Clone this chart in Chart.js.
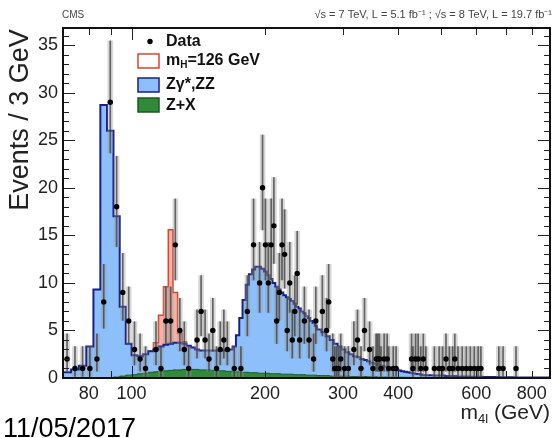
<!DOCTYPE html>
<html>
<head>
<meta charset="utf-8">
<script src="https://cdn.jsdelivr.net/npm/chart.js@4.4.0/dist/chart.umd.min.js"></script>
<style>
  html, body { margin: 0; padding: 0; background: #fff; }
  #wrap { width: 553px; height: 438px; position: relative; }
</style>
</head>
<body>
<div id="wrap"><canvas id="massChart"></canvas></div>
<script>
// x axis labels (GeV) and minor tick positions
const massTicks = [80, 100, 200, 300, 400, 600, 800];
const massMinorTicks = [70, 80, 90, 200, 300, 400, 500, 600, 700, 800];
const eventTicks = [0, 5, 10, 15, 20, 25, 30, 35];

// background histograms: left bin edges (GeV), events per bin
const bkgEdges = [
  70, 73, 76, 79, 82, 85, 88, 91, 94, 97,
  100, 103, 106, 109, 112, 115, 118, 121, 124, 127,
  130, 133, 136, 139, 142, 145, 148, 151, 154, 157,
  160, 163, 166, 169, 172, 175, 178, 181, 184, 187,
  190, 193, 196, 199, 202, 205, 208, 211, 214, 217,
  220, 223, 226, 229, 232, 235, 238, 241, 244, 247,
  250, 253, 256, 259,
  262, 268, 274, 280, 286, 292, 298, 304, 310, 316,
  322, 328, 334, 340, 346, 352, 358, 364, 370, 376,
  382, 388, 394, 400, 406, 412, 418, 424, 430, 436,
  442, 448,
  454, 480, 510, 540, 580, 620, 680, 740, 800, 880
];
// Zgamma*, ZZ
const zzEvents = [
  0.3, 0.6, 0.9, 1.3, 3.3, 9.3, 28.7, 25.95, 16.9, 7.3,
  3.3, 2.05, 1.85, 2.0, 2.2, 2.35, 2.6, 2.75, 2.8, 2.85,
  2.85, 2.7, 2.5, 2.3, 2.1, 2.05, 2.05, 2.05, 2.1, 2.1,
  2.15, 2.15, 2.2, 2.3, 2.65, 3.85, 5.7, 7.6, 9.2, 10.35,
  10.85, 11.15, 11.2, 11.0, 10.7, 10.3, 9.95, 9.55, 9.15, 8.85,
  8.6, 8.3, 8.1, 7.9, 7.7, 7.45, 7.15, 6.95, 6.65, 6.45,
  6.2, 6.0, 5.7, 5.5,
  5.2, 4.85, 4.55, 4.15, 3.8, 3.4, 3.1, 2.8, 2.5, 2.35,
  2.15, 2.05, 1.85, 1.75, 1.63, 1.48, 1.38, 1.3, 1.2, 1.1,
  1.0, 0.9, 0.85, 0.82, 0.72, 0.62, 0.58, 0.53, 0.49, 0.44,
  0.4, 0.37,
  0.33, 0.26, 0.22, 0.17, 0.14, 0.11, 0.08, 0.07, 0.05, 0.05
];
// Z+X
const zxEvents = [
  0, 0, 0, 0, 0, 0, 0, 0.05, 0.1, 0.2,
  0.3, 0.35, 0.45, 0.5, 0.6, 0.65, 0.7, 0.75, 0.8, 0.85,
  0.85, 0.9, 0.9, 0.9, 0.9, 0.85, 0.85, 0.85, 0.8, 0.8,
  0.75, 0.75, 0.7, 0.7, 0.65, 0.65, 0.6, 0.6, 0.6, 0.55,
  0.55, 0.55, 0.5, 0.5, 0.5, 0.5, 0.45, 0.45, 0.45, 0.45,
  0.4, 0.4, 0.4, 0.4, 0.4, 0.35, 0.35, 0.35, 0.35, 0.35,
  0.3, 0.3, 0.3, 0.3,
  0.3, 0.25, 0.25, 0.25, 0.2, 0.2, 0.2, 0.2, 0.2, 0.15,
  0.15, 0.15, 0.15, 0.15, 0.12, 0.12, 0.12, 0.1, 0.1, 0.1,
  0.1, 0.1, 0.1, 0.08, 0.08, 0.08, 0.07, 0.07, 0.06, 0.06,
  0.05, 0.05,
  0.05, 0.04, 0.03, 0.03, 0.02, 0.02, 0.02, 0.01, 0.01, 0.01
];

// mH = 126 GeV signal, on top of the background
const higgsEdges = [115, 118, 121, 124, 127, 130, 133];
const higgsEvents = [0.7, 3.3, 6.1, 12.0, 5.3, 1.0, 0.2];

// observed data (bin centres, counts)
const dataMass = [
  71.5, 74.5, 77.5, 80.5, 83.5, 86.5, 89.5, 92.5, 95.5, 98.5,
  101.5, 104.5, 107.5, 113.5, 116.5, 119.5, 122.5, 125.5, 128.5, 131.5,
  134.5, 140.5, 143.5, 146.5, 149.5, 152.5, 155.5, 158.5, 161.5, 164.5,
  170.5, 176.5, 182.5, 188.5, 194.5, 197.5, 200.5, 203.5, 206.5, 209.5,
  212.5, 215.5, 218.5, 221.5, 224.5, 227.5, 230.5, 233.5, 236.5, 239.5,
  245.5, 251.5, 257.5, 260.5, 269.5, 275.5, 278.5, 284.5, 287.5, 290.5,
  293.5, 296.5, 302.5, 308.5, 317.5, 323.5, 329.5, 335.5, 344.5, 350.5,
  356.5, 359.5, 362.5, 365.5, 371.5, 377.5, 380.5, 389.5, 395.5, 428.5,
  431.5, 437.5, 443.5, 449.5, 455.5, 461.5, 482.5, 494.5, 503.5, 512.5,
  521.5, 530.5, 536.5, 545.5, 557.5, 569.5, 581.5, 593.5, 605.5, 614.5,
  674.5, 689.5, 737.5
];
const dataEvents = [
  2, 1, 1, 1, 2, 8, 29, 18, 9, 6,
  3, 2, 1, 3, 1, 6, 6, 14, 5, 3,
  1, 4, 7, 4, 2, 5, 1, 3, 4, 3,
  1, 1, 7, 14, 10, 20, 14, 10, 14, 16,
  6, 9, 14, 13, 5, 10, 4, 7, 11, 4,
  6, 4, 2, 6, 7, 5, 8, 2, 1, 1,
  1, 2, 1, 1, 3, 4, 1, 5, 3, 1,
  2, 2, 2, 1, 2, 2, 1, 1, 1, 2,
  1, 2, 2, 1, 2, 1, 1, 1, 1, 2,
  1, 1, 2, 1, 1, 1, 1, 1, 1, 1,
  1, 1, 1
];

// 68% Poisson (Garwood) intervals for a count n
const poissonBand = {
  0: [0, 1.84], 1: [0.17, 3.30], 2: [0.71, 4.64], 3: [1.37, 5.92], 4: [2.09, 7.16],
  5: [2.84, 8.38], 6: [3.62, 9.58], 7: [4.42, 10.77], 8: [5.23, 11.95], 9: [6.06, 13.11],
  10: [6.89, 14.27], 11: [7.73, 15.42], 12: [8.58, 16.56], 13: [9.44, 17.70], 14: [10.30, 18.83],
  15: [11.17, 19.96], 16: [12.04, 21.08], 17: [12.92, 22.20], 18: [13.80, 23.32], 19: [14.68, 24.44],
  20: [15.57, 25.55], 29: [23.66, 35.45]
};

// ---- build datasets from the arrays ----
const zxPoints = bkgEdges.map((m, i) => ({ x: m, y: zxEvents[i] }));
const bkgPoints = bkgEdges.map((m, i) => ({ x: m, y: zxEvents[i] + zzEvents[i] }));
const sigPoints = [];
bkgEdges.forEach((m, i) => {
  if (m < 109 || m > 139) return;
  const k = higgsEdges.indexOf(m);
  sigPoints.push({ x: m, y: zxEvents[i] + zzEvents[i] + (k >= 0 ? higgsEvents[k] : 0) });
});
const dataPoints = dataMass.map((m, i) => ({ x: m, y: dataEvents[i] }));
const errPoints = dataMass.map((m, i) => ({ x: m, y: poissonBand[dataEvents[i]] }));

const FONT = "'Liberation Sans', Arial, Helvetica, sans-serif";
Chart.defaults.font.family = FONT;

const rootStyle = {
  id: 'rootStyle',
  afterDraw(chart) {
    const { ctx, chartArea: a, scales } = chart;
    const x = scales.x, y = scales.y;
    ctx.save();

    // inward ticks
    ctx.strokeStyle = '#222';
    ctx.lineWidth = 1;
    ctx.beginPath();
    for (let v = 1; v <= 36; v++) {
      const py = Math.round(y.getPixelForValue(v)) + 0.5;
      const len = v % 5 === 0 ? 12 : 6;
      ctx.moveTo(a.left, py); ctx.lineTo(a.left + len, py);
      ctx.moveTo(a.right, py); ctx.lineTo(a.right - len, py);
    }
    massMinorTicks.concat([100]).forEach(v => {
      const px = Math.round(x.getPixelForValue(v)) + 0.5;
      const len = v === 100 ? 12 : 7;
      ctx.moveTo(px, a.bottom); ctx.lineTo(px, a.bottom - len);
      ctx.moveTo(px, a.top); ctx.lineTo(px, a.top + len);
    });
    ctx.stroke();

    // frame
    ctx.strokeStyle = '#111';
    ctx.lineWidth = 2;
    ctx.strokeRect(a.left, a.top, a.right - a.left, a.bottom - a.top);

    // legend
    const lx = 138, tx = 166;
    ctx.fillStyle = '#000';
    ctx.beginPath(); ctx.arc(150, 41.5, 2.7, 0, Math.PI * 2); ctx.fill();
    ctx.lineWidth = 1.5;
    ctx.fillStyle = '#fff'; ctx.strokeStyle = '#e2412b';
    ctx.fillRect(lx, 54, 21, 14); ctx.strokeRect(lx, 54, 21, 14);
    ctx.fillStyle = '#8dc0fb'; ctx.strokeStyle = '#1b1f8a';
    ctx.fillRect(lx, 78, 21, 14); ctx.strokeRect(lx, 78, 21, 14);
    ctx.fillStyle = '#2f8a3a'; ctx.strokeStyle = '#1d5a22';
    ctx.fillRect(lx, 98, 21, 14); ctx.strokeRect(lx, 98, 21, 14);

    ctx.fillStyle = '#111';
    ctx.textBaseline = 'middle';
    ctx.textAlign = 'left';
    ctx.font = 'bold 16px ' + FONT;
    ctx.fillText('Data', tx, 41.5);
    ctx.fillText('m', tx, 61);
    let w = ctx.measureText('m').width;
    ctx.font = 'bold 10px ' + FONT;
    ctx.fillText('H', tx + w, 65);
    w += ctx.measureText('H').width;
    ctx.font = 'bold 16px ' + FONT;
    ctx.fillText('=126 GeV', tx + w, 61);
    ctx.fillText('Z\u03b3*,ZZ', tx, 85);
    ctx.fillText('Z+X', tx, 105.5);

    // header
    ctx.fillStyle = '#444';
    ctx.textBaseline = 'alphabetic';
    ctx.font = '10px ' + FONT;
    ctx.fillText('CMS', 62, 18);
    ctx.textAlign = 'right';
    ctx.font = '11px ' + FONT;
    ctx.fillText('\u221as = 7 TeV, L = 5.1 fb\u207b\u00b9 ; \u221as = 8 TeV, L = 19.7 fb\u207b\u00b9', 552, 18);

    // axis titles
    ctx.fillStyle = '#222';
    ctx.font = '21px ' + FONT;
    ctx.textAlign = 'right';
    const tail = ' (GeV)';
    const tw = ctx.measureText(tail).width;
    ctx.fillText(tail, 550, 419);
    ctx.font = '13px ' + FONT;
    const sw = ctx.measureText('4l').width;
    ctx.fillText('4l', 550 - tw, 423);
    ctx.font = '21px ' + FONT;
    ctx.fillText('m', 550 - tw - sw, 419);

    ctx.save();
    ctx.translate(21, 120);
    ctx.rotate(-Math.PI / 2);
    ctx.textAlign = 'center';
    ctx.textBaseline = 'middle';
    ctx.font = '27px ' + FONT;
    ctx.fillText('Events / 3 GeV', 0, 0);
    ctx.restore();

    // date stamp
    ctx.fillStyle = '#000';
    ctx.textAlign = 'left';
    ctx.font = '27px ' + FONT;
    ctx.fillText('11/05/2017', 3, 437);

    ctx.restore();
  }
};

const ctx = document.getElementById('massChart').getContext('2d');
new Chart(ctx, {
  type: 'line',
  data: {
    datasets: [
      {
        label: 'Data',
        data: dataPoints,
        showLine: false,
        pointRadius: 2.7,
        pointHoverRadius: 2.7,
        pointBackgroundColor: '#000',
        pointBorderWidth: 0,
        order: 0,
      },
      {
        label: 'err core',
        type: 'bar',
        data: errPoints,
        barThickness: 1,
        grouped: false,
        backgroundColor: 'rgba(60,60,60,0.75)',
        order: 1,
      },
      {
        label: 'err halo',
        type: 'bar',
        data: errPoints,
        barThickness: 5,
        grouped: false,
        backgroundColor: 'rgba(150,150,150,0.38)',
        order: 2,
      },
      {
        label: 'Z+X',
        data: zxPoints,
        stepped: 'after',
        fill: 'origin',
        backgroundColor: '#2f8a3a',
        borderColor: '#1d5a22',
        borderWidth: 1,
        pointRadius: 0,
        order: 3,
      },
      {
        label: 'Z\u03b3*,ZZ',
        data: bkgPoints,
        stepped: 'after',
        fill: 'origin',
        backgroundColor: '#8dc0fb',
        borderColor: '#1b1f8a',
        borderWidth: 2,
        pointRadius: 0,
        order: 4,
      },
      {
        label: 'mH=126 GeV',
        data: sigPoints,
        stepped: 'after',
        fill: 'origin',
        backgroundColor: 'rgba(244,165,150,0.85)',
        borderColor: '#e2412b',
        borderWidth: 1.5,
        pointRadius: 0,
        order: 5,
      },
    ],
  },
  options: {
    responsive: true,
    maintainAspectRatio: false,
    animation: false,
    layout: { padding: { top: 28, right: 3, left: 0, bottom: 0 } },
    plugins: {
      legend: { display: false },
      tooltip: { enabled: false },
    },
    scales: {
      x: {
        type: 'logarithmic',
        min: 70,
        max: 880,
        offset: false,
        grid: { display: false, drawTicks: false },
        border: { display: false },
        afterBuildTicks: (s) => { s.ticks = massTicks.map(v => ({ value: v })); },
        afterFit: (s) => { s.height = 60; },
        ticks: {
          autoSkip: false,
          maxRotation: 0,
          padding: 5,
          color: '#222',
          font: { size: 18 },
          callback: (v) => String(v),
        },
      },
      y: {
        min: 0,
        max: 36.8,
        grid: { display: false, drawTicks: false },
        border: { display: false },
        afterBuildTicks: (s) => { s.ticks = eventTicks.map(v => ({ value: v })); },
        afterFit: (s) => { s.width = 63; },
        ticks: {
          padding: 5,
          color: '#222',
          font: { size: 18 },
        },
      },
    },
  },
  plugins: [rootStyle],
});
</script>
</body>
</html>
